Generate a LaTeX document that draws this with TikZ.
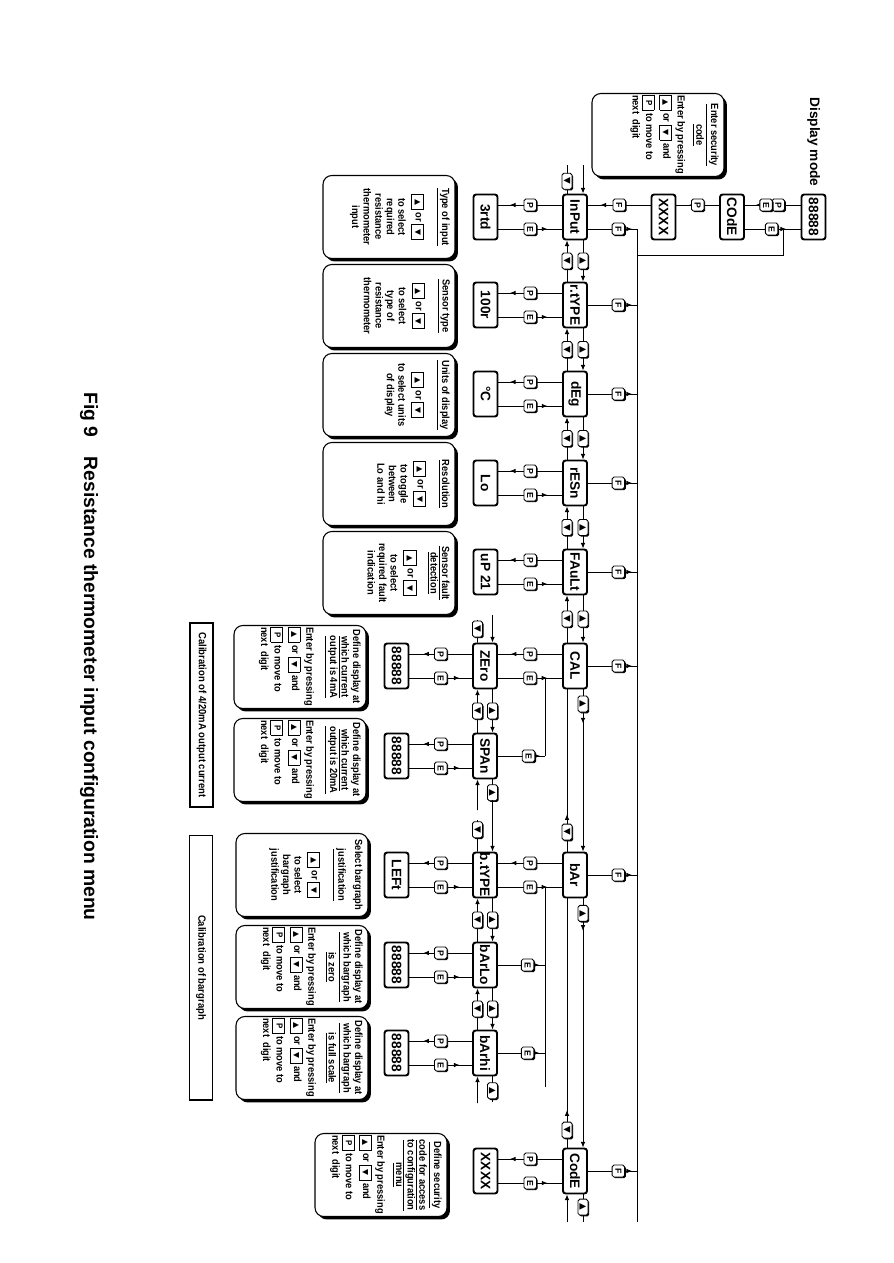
\documentclass[tikz,border=0pt]{standalone}
\usepackage{fontspec}
\setmainfont{Liberation Sans}
\newfontfamily\helpfont[FakeStretch=0.9]{Liberation Sans}
\newfontfamily\trifont{DejaVu Sans}
\usetikzlibrary{arrows.meta,calc,positioning,shadows,decorations.markings}

% key symbols used inside the help texts
\newcommand{\kbox}[1]{{\setlength{\fboxsep}{0.3pt}\setlength{\fboxrule}{0.55pt}%
  \fbox{\makebox[2.5mm]{\rule[-0.55mm]{0pt}{2.0mm}#1}}}}
\newcommand{\kup}{\kbox{\trifont\fontsize{4.4}{4.4}\selectfont ▲}}
\newcommand{\kdn}{\kbox{\trifont\fontsize{4.4}{4.4}\selectfont ▼}}
\newcommand{\kp}{\kbox{\fontsize{5}{5}\selectfont P}}
\newcommand{\hbody}[1]{\parbox[c][2.5cm][t]{1.6cm}{\vspace*{1pt}#1}}
\newcommand{\enterkeys}{\raggedright Enter by pressing\\[1.5pt]
  \kup\ or \kdn\ and\\[1.5pt]\kp\ to move to\\next\ \ digit\par}

\begin{document}
\begin{tikzpicture}[x=0.02cm,y=0.02cm,rotate=-90,transform shape,
  >={Latex[length=3.2pt,width=2.6pt]},line width=0.5pt,
  menu/.style={draw,line width=1.1pt,rounded corners=1.5pt,fill=white,
    minimum width=0.9cm,minimum height=0.48cm,inner sep=0pt,
    font=\fontsize{7.8}{8}\selectfont\bfseries},
  btn/.style={draw,line width=0.5pt,rounded corners=1pt,fill=white,
    minimum width=0.24cm,minimum height=0.25cm,inner sep=0pt,
    font=\fontsize{5}{5}\selectfont\bfseries,
    general shadow={fill=black,shadow xshift=0.7pt,shadow yshift=-0.7pt}},
  abtn/.style={btn,minimum width=0.32cm,minimum height=0.2cm,
    font=\trifont\fontsize{5}{5}\selectfont},
  help/.style={draw,line width=0.6pt,rounded corners=5pt,fill=white,
    minimum width=1.66cm,minimum height=2.64cm,inner sep=0pt,
    font=\helpfont\bfseries\fontsize{5.9}{6.6}\selectfont,
    general shadow={fill=black,shadow xshift=1.7pt,shadow yshift=-1.7pt}},
  note/.style={draw,line width=0.6pt,minimum height=0.46cm,inner sep=0pt,
    font=\helpfont\bfseries\fontsize{6}{6}\selectfont},
  marr/.style={postaction={decorate},decoration={markings,
    mark=at position #1 with {\arrow{>}}}}]

\useasboundingbox (0,0) rectangle (1263,893);

% titles
\node[anchor=base west,inner sep=0pt,font=\fontsize{11}{13}\selectfont\bfseries] (title) at (392,84)
  {Fig 9\quad Resistance thermometer input configuration menu};
\node[anchor=base west,inner sep=0pt,font=\fontsize{7.8}{9}\selectfont\bfseries] (dmode) at (97,810) {Display mode};

% display mode and security code
\node[menu] (disp) at (217,813.5) {88888};
\node[menu] (dcode) at (217,732) {COdE};
\node[menu] (dxx) at (217,663.5) {XXXX};

% main menu
\foreach \nm/\u/\lbl in {inp/217/InPut,rtype/305/r.tYPE,deg/394/dEg,resn/483/rESn,
  fault/572/FAuLt,cal/666/CAL,bar/875/bAr,code/1171/CodE}
  \node[menu] (\nm) at (\u,575) {\lbl};
\foreach \nm/\u/\lbl in {inp/217/3rtd,rtype/305/100r,deg/394/°C,resn/483/Lo,
  fault/572/uP 21,code/1171/XXXX}
  \node[menu] (v\nm) at (\u,485.5) {\lbl};

% calibration sub menus
\foreach \nm/\u/\lbl/\val in {zero/666/ZEro/88888,span/756/SPAn/88888,btype/875/b.tYPE/LEFt,
  blo/965/bArLo/88888,bhi/1053/bArhi/88888}{
  \node[menu] (\nm) at (\u,485) {\lbl};
  \node[menu] (v\nm) at (\u,396.5) {\val};
}

% help boxes
\node[help] (hinp) at (217,389) {\hbody{\centering\underline{Type of input}\\[6pt]
  \kup\ or \kdn\\[2pt]to select\\required\\resistance\\thermometer\\input}};
\node[help] (hrt) at (306,389) {\hbody{\centering\underline{Sensor type}\\[6pt]
  \kup\ or \kdn\\[2pt]to select\\type of\\resistance\\thermometer}};
\node[help] (hdeg) at (395,389) {\hbody{\centering\underline{Units of display}\\[6pt]
  \kup\ or \kdn\\[2pt]to select units\\of display}};
\node[help] (hres) at (484,389) {\hbody{\centering\underline{Resolution}\\[6pt]
  \kup\ or \kdn\\[2pt]to toggle\\between\\Lo and hi}};
\node[help] (hflt) at (573,389) {\hbody{\centering\underline{Sensor fault}\\\underline{detection}\\[5pt]
  \kup\ or \kdn\\[2pt]to select\\required fault\\indication}};
\node[help] (hzero) at (667,300) {\hbody{\centering Define display at\\\underline{which current}\\
  \underline{output is 4mA}\par\vspace{5pt}\enterkeys}};
\node[help] (hspan) at (760,300) {\hbody{\centering Define display at\\\underline{which current}\\
  \underline{output is 20mA}\par\vspace{5pt}\enterkeys}};
\node[help] (hbt) at (875,302) {\hbody{\centering Select bargraph\\[3pt]\underline{justification}\\[6pt]
  \kup\ or \kdn\\[2pt]to select\\bargraph\\justification}};
\node[help] (hlo) at (967,302) {\hbody{\centering Define display at\\\underline{which bargraph}\\
  \underline{is zero}\par\vspace{5pt}\enterkeys}};
\node[help] (hhi) at (1058,302) {\hbody{\centering Define display at\\\underline{which bargraph}\\
  \underline{is full scale}\par\vspace{5pt}\enterkeys}};
\node[help] (hcode) at (1175,381) {\hbody{\centering\underline{Define security}\\\underline{code for access}\\
  \underline{to configuration}\\\underline{menu}\par\vspace{4pt}\enterkeys}};
\node[help] (hsec) at (135,658) {\hbody{\centering\underline{Enter security}\\\underline{code}\par
  \vspace{4pt}\enterkeys}};

\node[note,minimum width=3.68cm] (cal420) at (715,201.5) {Calibration of 4/20mA output current};
\node[note,minimum width=5.3cm] (calbar) at (967.5,201) {Calibration of bargraph};

% display to InPut
\draw[marr=0.81] ($(disp.south)+(-12,0)$) -- node[btn,pos=0.4]{P} node[btn,pos=0.62]{E}
  ($(dcode.north)+(-12,0)$);
\draw[marr=0.71] ($(dcode.south)+(-12,0)$) -- node[btn]{P} ($(dxx.north)+(-12,0)$);
\draw[marr=0.8] ($(dxx.south)+(-12,0)$) -- node[btn]{F} ($(inp.north)+(-12,0)$);
\draw[marr=0.74] ($(dcode.north)+(12,0)$) -- node[btn,pos=0.48]{E} ($(disp.south)+(12,0)$);

% return bus
\coordinate (jd) at (229,783);
\coordinate (finp) at (229,637);
\coordinate (bknee) at (255,637);
\coordinate (bknee2) at (255,783);
\coordinate (bbot) at (1222,637);
\draw (finp) -- (bbot);
\draw (bknee) -- (bknee2) -- (jd);
\draw[marr=0.9] ($(inp.north)+(12,0)$) -- node[btn,pos=0.62]{F} (finp);
\foreach \nm/\u in {rtype/305,deg/394,resn/483,fault/572,cal/666,bar/875,code/1171}{
  \coordinate (f\nm) at (\u,637);
  \draw[marr=0.9] (\nm.north) -- node[btn,pos=0.62]{F} (f\nm);
}

% P and E to the values
\foreach \nm in {inp,rtype,deg,resn,fault,code}{
  \draw[marr=0.82] ($(\nm.south)+(-12,0)$) -- node[btn]{P} ($(v\nm.north)+(-12,0)$);
  \draw[marr=0.77] ($(v\nm.north)+(12,0)$) -- node[btn]{E} ($(\nm.south)+(12,0)$);
}
\foreach \nm in {zero,span,btype,blo,bhi}{
  \draw[marr=0.78] ($(\nm.south)+(-12,0)$) -- node[btn]{P} ($(v\nm.north)+(-12,0)$);
  \draw[marr=0.8] ($(v\nm.north)+(12,0)$) -- node[btn]{E} ($(\nm.south)+(12,0)$);
}
\foreach \m/\s in {cal/zero,bar/btype}{
  \draw[marr=0.8] ($(\m.south)+(-12,0)$) -- node[btn]{P} ($(\s.north)+(-12,0)$);
  \draw[marr=0.77] ($(\s.north)+(12,0)$) -- node[btn]{E} ($(\m.south)+(12,0)$);
}

% E returns from the sub menus
\coordinate (jz) at (678,545);
\coordinate (jzs) at (756,545);
\coordinate (jb) at (887,545);
\coordinate (jbend) at (1087,545);
\draw (jzs) -- (jz);
\draw (jb) -- (jbend);
\draw[marr=0.9] (span.north) -- node[btn,pos=0.65]{E} (jzs);
\foreach \nm/\u in {blo/965,bhi/1053}{
  \coordinate (j\nm) at (\u,545);
  \draw[marr=0.88] (\nm.north) -- node[btn,pos=0.63]{E} (j\nm);
}

% up and down keys, main menu
\foreach \a/\b in {inp/rtype,rtype/deg,deg/resn,resn/fault,fault/cal}{
  \draw[->] ($(\a.east)+(0,8)$) -- node[abtn]{▲} ($(\b.west)+(0,8)$);
  \draw[->] ($(\b.west)+(0,-8)$) -- node[abtn]{▼} ($(\a.east)+(0,-8)$);
}
\draw[->,marr=0.21] ($(cal.east)+(0,8)$) -- node[abtn,pos=0.09]{▲} ($(bar.west)+(0,8)$);
\draw[marr=0.23] ($(bar.west)+(0,-8)$) -- node[abtn,pos=0.12]{▼} ($(cal.east)+(0,-8)$);
\draw[->,marr=0.13] ($(bar.east)+(0,8)$) -- node[abtn,pos=0.06]{▲} ($(code.west)+(0,8)$);
\draw[marr=0.15] ($(code.west)+(0,-8)$) -- node[abtn,pos=0.07]{▼} ($(bar.east)+(0,-8)$);
\coordinate (wtu) at (165,583);
\coordinate (wtd) at (165,567);
\coordinate (wbu) at (1222,583);
\coordinate (wbd) at (1222,567);
\draw[->] (wtu) -- ($(inp.west)+(0,8)$);
\draw ($(inp.west)+(0,-8)$) -- node[abtn,pos=0.43]{▼} (wtd);
\draw ($(code.east)+(0,8)$) -- node[abtn,pos=0.46]{▲} (wbu);
\draw[->] (wbd) -- ($(code.east)+(0,-8)$);

% up and down keys, sub menus
\foreach \a/\b in {zero/span,btype/blo,blo/bhi}{
  \draw[->] ($(\a.east)+(0,7.5)$) -- node[abtn]{▲} ($(\b.west)+(0,7.5)$);
  \draw[->] ($(\b.west)+(0,-7.5)$) -- node[abtn]{▼} ($(\a.east)+(0,-7.5)$);
}
\coordinate (ztu) at (615,492.5);
\coordinate (ztd) at (620,477.5);
\coordinate (zbu) at (805,492.5);
\coordinate (zbd) at (810,477.5);
\draw[->] (ztu) -- ($(zero.west)+(0,7.5)$);
\draw ($(zero.west)+(0,-7.5)$) -- node[abtn,pos=0.6]{▼} (ztd);
\draw ($(span.east)+(0,7.5)$) -- node[abtn,pos=0.52]{▲} (zbu);
\draw[->] (zbd) -- ($(span.east)+(0,-7.5)$);
\coordinate (btu) at (800,492.5);
\coordinate (btd) at (820,477.5);
\coordinate (bbu) at (1102,492.5);
\coordinate (bbd) at (1103,477.5);
\draw[->] (btu) -- ($(btype.west)+(0,7.5)$);
\draw ($(btype.west)+(0,-7.5)$) -- node[abtn,pos=0.69]{▼} (btd);
\draw ($(bhi.east)+(0,7.5)$) -- node[abtn,pos=0.56]{▲} (bbu);
\draw[->] (bbd) -- ($(bhi.east)+(0,-7.5)$);

\end{tikzpicture}
\end{document}
